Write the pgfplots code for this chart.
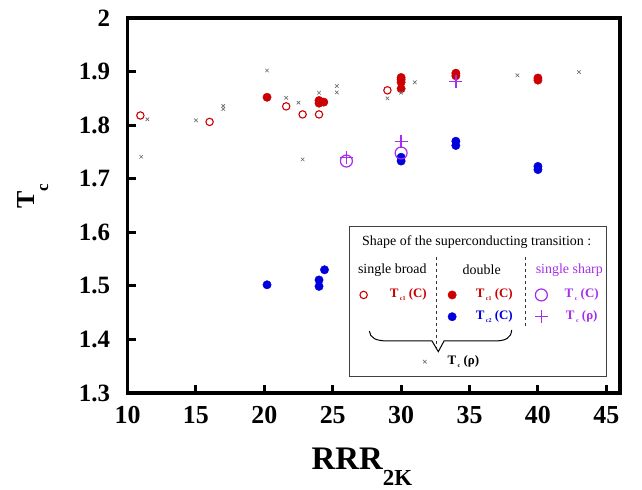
\documentclass[border=0pt]{standalone}
\usepackage{fontspec}
\setmainfont{Liberation Serif}
\usepackage{pgfplots}
\pgfplotsset{compat=1.18}
\definecolor{cred}{RGB}{204,0,0}
\definecolor{cblue}{RGB}{0,0,220}
\definecolor{cpurp}{RGB}{165,45,235}
\definecolor{cgray}{RGB}{105,105,105}
\newcommand{\Tsub}[1]{T\hspace{1.5bp}\raisebox{-0.5ex}{\fontsize{6}{6}\selectfont #1}}
\begin{document}
\begin{tikzpicture}[x=1bp,y=1bp]
\useasboundingbox (0,0) rectangle (642,490);
\begin{axis}[
  at={(127.5bp,97bp)}, anchor=south west,
  scale only axis, width=492.5bp, height=375bp,
  xmin=10, xmax=46, ymin=1.3, ymax=2,
  xtick={10,15,20,25,30,35,40,45},
  xticklabels={10,15,20,25,30,35,40,45},
  ytick={1.3,1.4,1.5,1.6,1.7,1.8,1.9,2},
  yticklabels={1.3,1.4,1.5,1.6,1.7,1.8,1.9,2},
  tick pos=left, tick align=inside,
  major tick length=8bp,
  tick style={line width=3bp, black},
  axis line style={line width=3.5bp},
  xticklabel style={font=\bfseries\fontsize{26}{26}\selectfont, yshift=-10bp},
  yticklabel style={font=\bfseries\fontsize{25}{25}\selectfont, xshift=-14bp},
  clip=false,
]
% single broad: Tc1(C)
\addplot[only marks, mark=o, mark size=3.7bp, cred, mark options={draw=cred, line width=1.1bp}] coordinates {
(10.94,1.818) (16.0,1.806) (21.6,1.835) (22.8,1.820) (24.0,1.820) (29.0,1.865)
};
% double: Tc1(C)
\addplot[only marks, mark=*, mark size=4.2bp, cred, mark options={draw=cred, fill=cred}] coordinates {
(20.2,1.852) (24.0,1.846) (24.0,1.841) (24.35,1.843)
(30.0,1.889) (30.0,1.885) (30.0,1.880) (30.0,1.868)
(34.0,1.897) (34.0,1.892) (40.0,1.888) (40.0,1.884)
};
% double: Tc2(C)
\addplot[only marks, mark=*, mark size=4.2bp, cblue, mark options={draw=cblue, fill=cblue}] coordinates {
(20.2,1.502) (24.0,1.511) (24.0,1.499) (24.4,1.530)
(30.0,1.740) (30.0,1.733) (34.0,1.770) (34.0,1.762)
(40.0,1.723) (40.0,1.717)
};
% single sharp: Tc(C)
\addplot[only marks, mark=o, mark size=6bp, cpurp, mark options={draw=cpurp, line width=1.2bp}] coordinates {
(26.0,1.733) (30.0,1.748)
};
% single sharp: Tc(rho)
\addplot[only marks, mark=+, mark size=6.5bp, cpurp, mark options={draw=cpurp, line width=1.4bp}] coordinates {
(26.0,1.740) (30.0,1.770) (34.0,1.882)
};
% Tc(rho) broad/double
\addplot[only marks, mark=x, mark size=2.5bp, cgray, mark options={draw=cgray, line width=0.6bp}] coordinates {
(11.0,1.741) (11.45,1.811) (15.0,1.809) (17.0,1.836) (17.0,1.830)
(20.2,1.902) (21.6,1.851) (22.5,1.842) (22.8,1.736) (24.0,1.8605)
(25.3,1.873) (25.3,1.861) (29.0,1.850) (30.0,1.8605) (31.0,1.880)
(38.5,1.893) (43.0,1.899)
};
% legend keys
\addplot[forget plot, only marks, mark=o, mark size=3.7bp, cred, mark options={draw=cred, line width=1.1bp}] coordinates {(27.26,1.483)};
\addplot[forget plot, only marks, mark=*, mark size=4.2bp, cred, mark options={draw=cred, fill=cred}] coordinates {(33.73,1.483)};
\addplot[forget plot, only marks, mark=*, mark size=4.2bp, cblue, mark options={draw=cblue, fill=cblue}] coordinates {(33.73,1.4424)};
\addplot[forget plot, only marks, mark=o, mark size=6bp, cpurp, mark options={draw=cpurp, line width=1.2bp}] coordinates {(40.25,1.483)};
\addplot[forget plot, only marks, mark=+, mark size=6.5bp, cpurp, mark options={draw=cpurp, line width=1.4bp}] coordinates {(40.25,1.4424)};
\addplot[forget plot, only marks, mark=x, mark size=2.5bp, cgray, mark options={draw=cgray, line width=0.6bp}] coordinates {(31.73,1.3584)};
\end{axis}
% legend box
\draw[line width=0.9bp, black!75] (349.3,113.3) rectangle (606.7,263.3);
\node[font=\fontsize{14}{14}\selectfont] at (476.7,248.3) {Shape of the superconducting transition :};
\node[font=\fontsize{14}{14}\selectfont] at (392.3,220) {single broad};
\node[font=\fontsize{14}{14}\selectfont] at (481.7,220) {double};
\node[font=\fontsize{14}{14}\selectfont, text=cpurp] at (569.3,220) {single sharp};
\node[font=\bfseries\fontsize{13}{13}\selectfont, text=cred] at (408.3,195) {\Tsub{c1} (C)};
\node[font=\bfseries\fontsize{13}{13}\selectfont, text=cred] at (494.3,195) {\Tsub{c1} (C)};
\node[font=\bfseries\fontsize{13}{13}\selectfont, text=cblue] at (494.3,173.3) {\Tsub{c2} (C)};
\node[font=\bfseries\fontsize{13}{13}\selectfont, text=cpurp] at (581.7,195) {\Tsub{c} (C)};
\node[font=\bfseries\fontsize{13}{13}\selectfont, text=cpurp] at (581.7,173.3) {\Tsub{c} (ρ)};
\node[font=\bfseries\fontsize{13}{13}\selectfont] at (463.3,128.3) {\Tsub{c} (ρ)};
\draw[line width=1bp, dash pattern=on 3bp off 3bp, black!80] (436.7,233.3) -- (436.7,142);
\draw[line width=1bp, dash pattern=on 3bp off 3bp, black!80] (525.7,233.3) -- (525.7,162);
\draw[line width=1bp] (369.3,159) .. controls (370,152) and (376,149) .. (388,149) -- (432,149) -- (438.3,138.3) -- (444,149) -- (494,149) .. controls (506,149) and (511,152) .. (511.7,160);
% axis labels
\node[anchor=base west, inner sep=0, font=\bfseries] at (311.5,20) {\fontsize{33}{33}\selectfont RRR\raisebox{-16bp}{\fontsize{23}{23}\selectfont 2K}};
\node[anchor=base west, inner sep=0, rotate=90, font=\bfseries] at (34,281) {\fontsize{26}{26}\selectfont T\raisebox{-14bp}{\fontsize{17}{17}\selectfont c}};
\end{tikzpicture}
\end{document}
